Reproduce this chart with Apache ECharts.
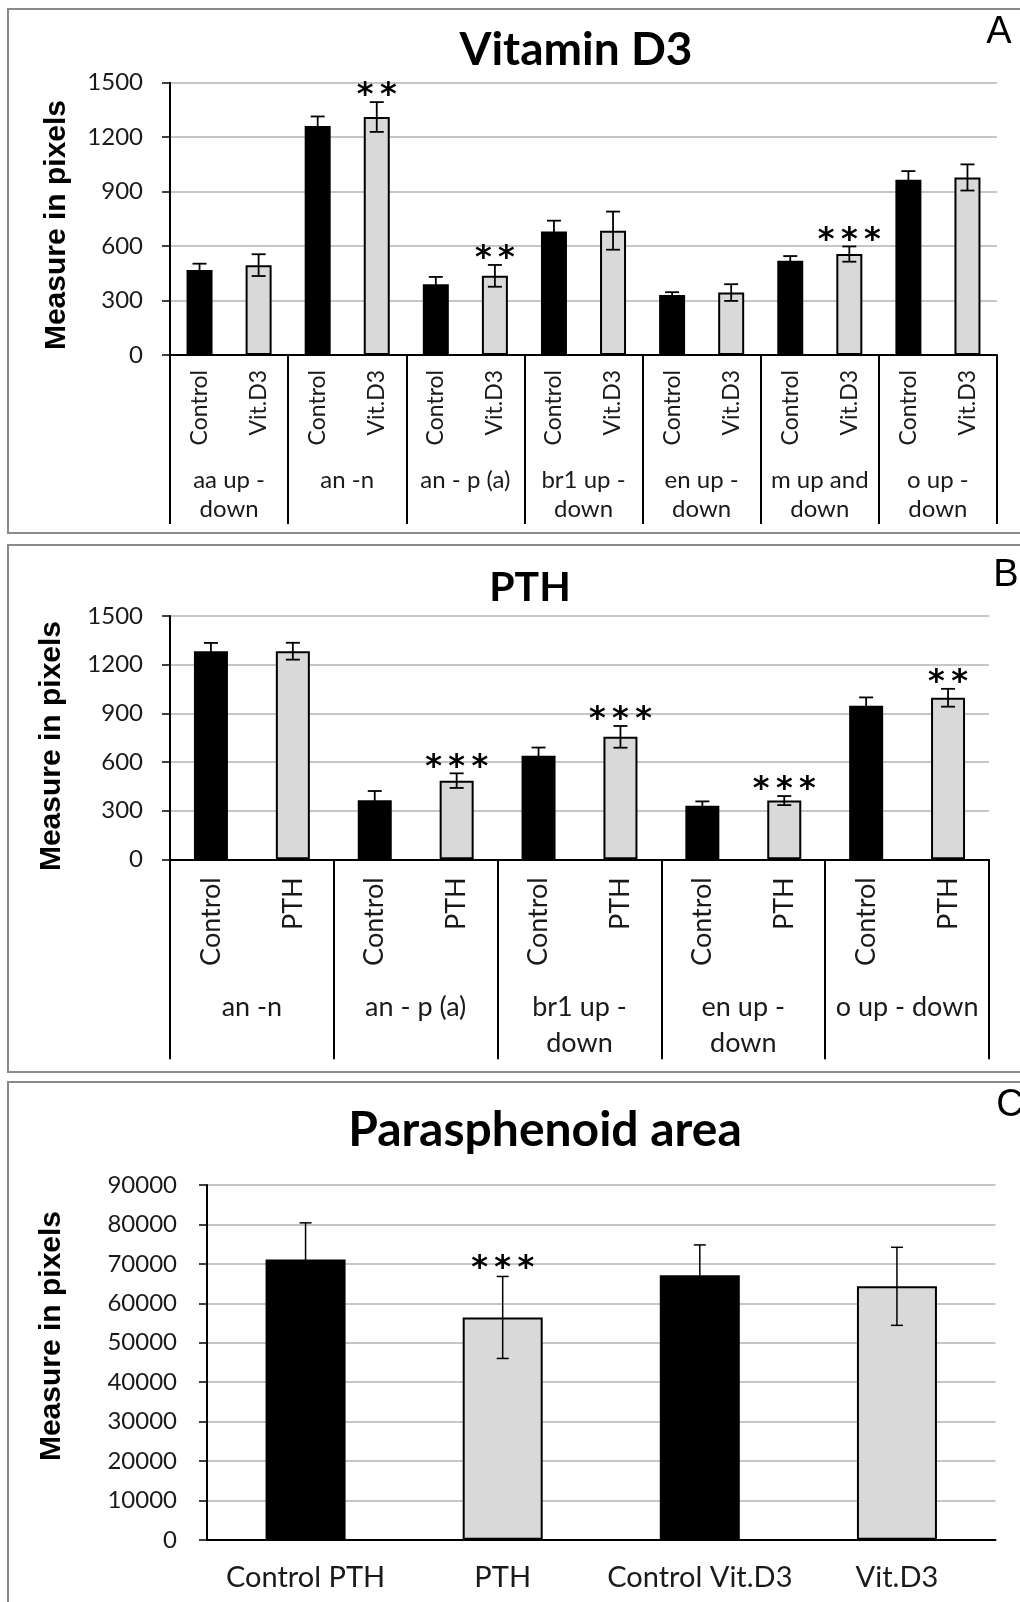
<!DOCTYPE html>
<html><head><meta charset="utf-8">
<script src="https://cdn.jsdelivr.net/npm/echarts@6/dist/echarts.min.js"></script>
<style>html,body{margin:0;padding:0;background:#fff}#c{width:1020px;height:1602px}</style>
</head><body><div id="c"></div><script>
// ---------- Panel A: Vitamin D3 ----------
const groupsA = ['aa up -\ndown', 'an -n', 'an - p (a)', 'br1 up -\ndown', 'en up -\ndown', 'm up and\ndown', 'o up -\ndown'];
const subLabelsA = ['Control', 'Vit.D3'];
const controlA = [468, 1261, 390, 680, 331, 519, 965];
const controlErrA = [35, 53, 40, 60, 15, 26, 48];
const treatA = [495, 1311, 436, 685, 344, 556, 978];
const treatErrA = [60, 82, 60, 105, 46, 42, 72];
const starsA = ['', '**', '**', '', '', '***', ''];
const ticksA = [0, 300, 600, 900, 1200, 1500];

// ---------- Panel B: PTH ----------
const groupsB = ['an -n', 'an - p (a)', 'br1 up -\ndown', 'en up -\ndown', 'o up - down'];
const subLabelsB = ['Control', 'PTH'];
const controlB = [1283, 364, 638, 330, 947];
const controlErrB = [51, 57, 51, 27, 51];
const treatB = [1283, 485, 755, 362, 996];
const treatErrB = [52, 45, 67, 28, 55];
const starsB = ['', '***', '***', '***', '**'];
const ticksB = [0, 300, 600, 900, 1200, 1500];

// ---------- Panel C: Parasphenoid area ----------
const catsC = ['Control PTH', 'PTH', 'Control Vit.D3', 'Vit.D3'];
const valuesC = [71100, 56400, 67100, 64300];
const errC = [9300, 10400, 7700, 9900];
const starsC = ['', '***', '', ''];
const isControlC = [true, false, true, false];
const ticksC = [0, 10000, 20000, 30000, 40000, 50000, 60000, 70000, 80000, 90000];

const BLACK = '#000000', GRAY = '#d9d9d9', TXT = '#1a1a1a';
const FONT = 'Lato';
const STAR_FONT = 'bold 32px "DejaVu Sans"';

function barItem(v, isCtrl, bw) {
  return { value: v, itemStyle: { color: isCtrl ? BLACK : GRAY, borderColor: '#000', borderWidth: isCtrl ? 0 : bw } };
}
function buildPaired(groups, ctrl, ctrlErr, trt, trtErr, stars, subs) {
  const cats = [], bars = [], errs = [], st = [];
  groups.forEach((g, i) => {
    cats.push(subs[0], subs[1]);
    bars.push(barItem(ctrl[i], true, 2), barItem(trt[i], false, 2));
    errs.push([2 * i, ctrl[i], ctrlErr[i]], [2 * i + 1, trt[i], trtErr[i]]);
    st.push('', stars[i]);
  });
  return { cats, bars, errs, st };
}
const A = buildPaired(groupsA, controlA, controlErrA, treatA, treatErrA, starsA, subLabelsA);
const B = buildPaired(groupsB, controlB, controlErrB, treatB, treatErrB, starsB, subLabelsB);
const Cbars = valuesC.map((v, i) => barItem(v, isControlC[i], 2));
const Cerrs = valuesC.map((v, i) => [i, v, errC[i]]);

function errorRender(stars, capW, lw, starGap, starFont) {
  return function (params, api) {
    const i = api.value(0), m = api.value(1), e = api.value(2);
    const pTop = api.coord([i, m + e]);
    const pBot = api.coord([i, m - e]);
    const x = pTop[0];
    const st = { stroke: '#000', lineWidth: lw };
    const children = [
      { type: 'line', shape: { x1: x, y1: pTop[1], x2: x, y2: pBot[1] }, style: st },
      { type: 'line', shape: { x1: x - capW / 2, y1: pTop[1], x2: x + capW / 2, y2: pTop[1] }, style: st },
      { type: 'line', shape: { x1: x - capW / 2, y1: pBot[1], x2: x + capW / 2, y2: pBot[1] }, style: st }
    ];
    const s = stars[params.dataIndex];
    if (s) {
      children.push({ type: 'text', x: x, y: pTop[1] - starGap,
        style: { text: s.split('').join('\u2009'), font: starFont, fill: '#000', align: 'center', verticalAlign: 'middle' } });
    }
    return { type: 'group', children };
  };
}

function yAxisCfg(gi, max, interval, margin) {
  return {
    type: 'value', gridIndex: gi, min: 0, max: max, interval: interval,
    axisLine: { show: true, lineStyle: { color: '#000', width: 2 } },
    axisTick: { show: true, length: 8, lineStyle: { color: '#000', width: 1.5 } },
    axisLabel: { color: TXT, fontFamily: FONT, fontSize: 24, margin: margin, formatter: v => String(v) },
    splitLine: { show: true, lineStyle: { color: '#b3b3b3', width: 1.6 } }
  };
}

const option = {
  animation: false,
  backgroundColor: '#fff',
  grid: [
    { left: 170, right: 23, top: 82.7, height: 272.3 },
    { left: 170, right: 31, top: 616, height: 243.3 },
    { left: 207, right: 24.5, top: 1185, height: 354.8 }
  ],
  xAxis: [
    { type: 'category', gridIndex: 0, position: 'bottom', data: A.cats,
      axisLine: { lineStyle: { color: '#000', width: 2 } },
      axisTick: { length: 92, lineStyle: { color: '#000', width: 2 } },
      axisLabel: { interval: 0, rotate: 90, margin: 15, color: TXT, fontFamily: FONT, fontSize: 23 } },
    { type: 'category', gridIndex: 0, position: 'bottom', offset: 0, data: groupsA,
      axisLine: { show: false },
      axisTick: { show: true, length: 169, lineStyle: { color: '#000', width: 2 } },
      axisLabel: { interval: 0, margin: 110, color: TXT, fontFamily: FONT, fontSize: 24, lineHeight: 29.6 } },
    { type: 'category', gridIndex: 1, position: 'bottom', data: B.cats,
      axisLine: { lineStyle: { color: '#000', width: 2 } },
      axisTick: { length: 109, lineStyle: { color: '#000', width: 2 } },
      axisLabel: { interval: 0, rotate: 90, margin: 18, color: TXT, fontFamily: FONT, fontSize: 27 } },
    { type: 'category', gridIndex: 1, position: 'bottom', offset: 0, data: groupsB,
      axisLine: { show: false },
      axisTick: { show: true, length: 200, lineStyle: { color: '#000', width: 2 } },
      axisLabel: { interval: 0, margin: 130, color: TXT, fontFamily: FONT, fontSize: 27, lineHeight: 36 } },
    { type: 'category', gridIndex: 2, position: 'bottom', data: catsC,
      axisLine: { lineStyle: { color: '#000', width: 2 } },
      axisTick: { show: false },
      axisLabel: { interval: 0, margin: 23, color: TXT, fontFamily: FONT, fontSize: 29 } }
  ],
  yAxis: [
    yAxisCfg(0, ticksA[ticksA.length - 1], ticksA[1] - ticksA[0], 27),
    yAxisCfg(1, ticksB[ticksB.length - 1], ticksB[1] - ticksB[0], 27),
    yAxisCfg(2, ticksC[ticksC.length - 1], ticksC[1] - ticksC[0], 30)
  ],
  series: [
    { type: 'bar', xAxisIndex: 0, yAxisIndex: 0, data: A.bars, barWidth: 26 },
    { type: 'custom', xAxisIndex: 0, yAxisIndex: 0, data: A.errs, z: 5, clip: false,
      renderItem: errorRender(A.st, 14, 1.8, 6, STAR_FONT) },
    { type: 'bar', xAxisIndex: 2, yAxisIndex: 1, data: B.bars, barWidth: 34 },
    { type: 'custom', xAxisIndex: 2, yAxisIndex: 1, data: B.errs, z: 5, clip: false,
      renderItem: errorRender(B.st, 14, 1.8, 6, STAR_FONT) },
    { type: 'bar', xAxisIndex: 4, yAxisIndex: 2, data: Cbars, barWidth: 80 },
    { type: 'custom', xAxisIndex: 4, yAxisIndex: 2, data: Cerrs, z: 5, clip: false,
      renderItem: errorRender(starsC, 12, 1.5, 8, STAR_FONT) }
  ],
  graphic: [
    { type: 'rect', shape: { x: 8, y: 9, width: 1030, height: 524 }, style: { fill: 'none', stroke: '#8a8a8a', lineWidth: 2 } },
    { type: 'rect', shape: { x: 8, y: 545, width: 1030, height: 527 }, style: { fill: 'none', stroke: '#8a8a8a', lineWidth: 2 } },
    { type: 'rect', shape: { x: 8, y: 1082, width: 1030, height: 540 }, style: { fill: 'none', stroke: '#8a8a8a', lineWidth: 2 } },
    { type: 'text', x: 576, y: 50, style: { text: 'Vitamin D3', font: 'bold 46px Lato', fill: '#000', align: 'center', verticalAlign: 'middle' } },
    { type: 'text', x: 530, y: 588, style: { text: 'PTH', font: 'bold 41px Lato', fill: '#000', align: 'center', verticalAlign: 'middle' } },
    { type: 'text', x: 545, y: 1131, style: { text: 'Parasphenoid area', font: 'bold 48px Lato', fill: '#000', align: 'center', verticalAlign: 'middle' } },
    { type: 'text', x: 999, y: 33, style: { text: 'A', font: '38px "Liberation Sans"', fill: '#000', align: 'center', verticalAlign: 'middle' } },
    { type: 'text', x: 1006, y: 576, style: { text: 'B', font: '38px "Liberation Sans"', fill: '#000', align: 'center', verticalAlign: 'middle' } },
    { type: 'text', x: 1010, y: 1106, style: { text: 'C', font: '38px "Liberation Sans"', fill: '#000', align: 'center', verticalAlign: 'middle' } },
    { type: 'text', x: 57, y: 225, rotation: Math.PI / 2, style: { text: 'Measure in pixels', font: 'bold 30px "Liberation Sans"', fill: '#000', align: 'center', verticalAlign: 'middle' } },
    { type: 'text', x: 52, y: 746, rotation: Math.PI / 2, style: { text: 'Measure in pixels', font: 'bold 30px "Liberation Sans"', fill: '#000', align: 'center', verticalAlign: 'middle' } },
    { type: 'text', x: 52, y: 1336, rotation: Math.PI / 2, style: { text: 'Measure in pixels', font: 'bold 30px "Liberation Sans"', fill: '#000', align: 'center', verticalAlign: 'middle' } }
  ]
};
const chart = echarts.init(document.getElementById('c'), null, { renderer: 'canvas' });
chart.setOption(option);
</script></body></html>
